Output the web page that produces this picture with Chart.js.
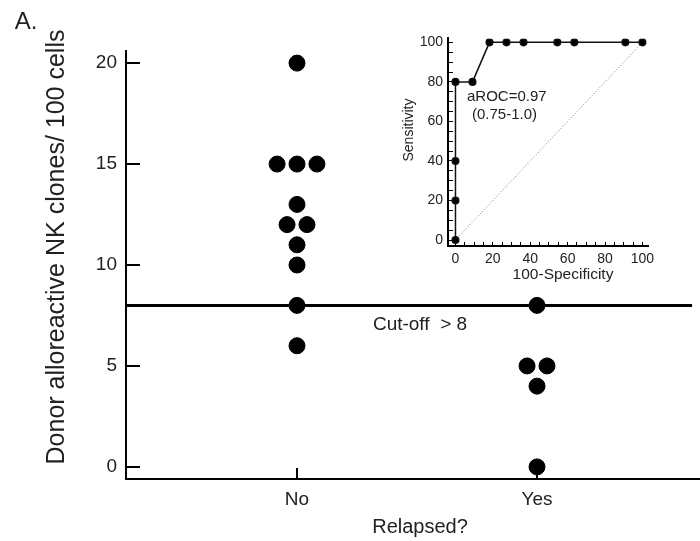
<!DOCTYPE html>
<html>
<head>
<meta charset="utf-8">
<script src="https://cdn.jsdelivr.net/npm/chart.js@4/dist/chart.umd.min.js"></script>
<style>
  html, body { margin: 0; padding: 0; background: #fff; }
  #wrap { position: relative; width: 700px; height: 541px; }
  #main { position: absolute; left: 0; top: 0; }
  #inset { position: absolute; left: 390px; top: 20px; }
</style>
</head>
<body>
<div id="wrap">
  <canvas id="main" width="700" height="541"></canvas>
  <canvas id="inset" width="280" height="270"></canvas>
</div>
<script>
// ---- data ----
const groups = ["No", "Yes"];
const notRelapsed = [20, 15, 15, 15, 13, 12, 12, 11, 10, 8, 6];
const relapsed = [8, 5, 5, 4, 0];
const cutoff = 8;
const yTicks = [0, 5, 10, 15, 20];

// ROC curve (100-specificity, sensitivity)
const rocX = [0, 0, 0, 0, 9.1, 18.2, 27.3, 36.4, 54.5, 63.6, 90.9, 100];
const rocY = [0, 20, 40, 80, 80, 100, 100, 100, 100, 100, 100, 100];
const rocTicks = [0, 20, 40, 60, 80, 100];

const FONT = "Arial, 'Liberation Sans', sans-serif";
const INK = '#222';

// spread identical values sideways so they don't overlap
function dotPlot(values, center, step) {
  const counts = {}, seen = {};
  values.forEach(v => counts[v] = (counts[v] || 0) + 1);
  return values.map(v => {
    const k = seen[v] = (seen[v] === undefined ? 0 : seen[v] + 1);
    return { x: center + (k - (counts[v] - 1) / 2) * step, y: v };
  });
}

const xMin = 0.2875, xMax = 2.679;
const jitter = 0.083;

const textPlugin = {
  id: 'mainText',
  afterDraw(chart) {
    const ctx = chart.ctx;
    ctx.save();
    ctx.fillStyle = INK;
    ctx.textAlign = 'center';
    ctx.textBaseline = 'middle';
    ctx.font = '24px ' + FONT;
    ctx.fillText('A.', 26, 22);
    ctx.font = '20px ' + FONT;
    ctx.fillText('Relapsed?', 420, 527);
    ctx.font = '19px ' + FONT;
    ctx.fillText('Cut-off  > 8', 420, 325);
    ctx.translate(57, 247);
    ctx.rotate(-Math.PI / 2);
    ctx.font = '25px ' + FONT;
    ctx.fillText('Donor alloreactive NK clones/ 100 cells', 0, 0);
    ctx.restore();
  }
};

new Chart(document.getElementById('main'), {
  type: 'scatter',
  data: {
    datasets: [
      {
        type: 'line',
        data: [{ x: xMin, y: cutoff }, { x: 2.646, y: cutoff }],
        borderColor: '#000',
        borderWidth: 3,
        pointRadius: 0,
        order: 2
      },
      {
        data: dotPlot(notRelapsed, 1, jitter),
        backgroundColor: '#000',
        borderColor: '#000',
        pointRadius: 8,
        order: 1
      },
      {
        data: dotPlot(relapsed, 2, jitter),
        backgroundColor: '#000',
        borderColor: '#000',
        pointRadius: 8,
        order: 1
      }
    ]
  },
  options: {
    responsive: false,
    animation: false,
    layout: { autoPadding: false, padding: { top: 51, right: 0, left: 0, bottom: 0 } },
    plugins: { legend: { display: false }, tooltip: { enabled: false } },
    scales: {
      x: {
        type: 'linear',
        min: xMin,
        max: xMax,
        afterBuildTicks: s => { s.ticks = groups.map((g, i) => ({ value: i + 1 })); },
        afterFit: s => { s.height = 62; },
        ticks: {
          callback: v => groups[v - 1],
          color: INK,
          font: { size: 19, family: FONT },
          padding: 20,
          maxRotation: 0
        },
        grid: { drawOnChartArea: false, tickLength: -11, color: '#000', lineWidth: 2 },
        border: { color: '#000', width: 2 }
      },
      y: {
        min: -0.6,
        max: 20.6,
        afterBuildTicks: s => { s.ticks = yTicks.map(v => ({ value: v })); },
        afterFit: s => { s.width = 126; },
        ticks: {
          color: INK,
          font: { size: 19, family: FONT },
          padding: 23
        },
        grid: { drawOnChartArea: false, tickLength: -14, color: '#000', lineWidth: 2 },
        border: { color: '#000', width: 2 }
      }
    }
  },
  plugins: [textPlugin]
});

const insetText = {
  id: 'insetText',
  afterDraw(chart) {
    const ctx = chart.ctx;
    ctx.save();
    ctx.fillStyle = INK;
    ctx.textBaseline = 'middle';
    ctx.font = '15px ' + FONT;
    ctx.textAlign = 'left';
    ctx.fillText('aROC=0.97', 77, 77);
    ctx.fillText('(0.75-1.0)', 82, 95);
    ctx.textAlign = 'center';
    ctx.font = '15.5px ' + FONT;
    ctx.fillText('100-Specificity', 173, 255);
    ctx.translate(19, 110);
    ctx.rotate(-Math.PI / 2);
    ctx.font = '14px ' + FONT;
    ctx.fillText('Sensitivity', 0, 0);
    ctx.restore();
  }
};

const every5 = Array.from({ length: 21 }, (_, i) => ({ value: i * 5 }));

new Chart(document.getElementById('inset'), {
  type: 'scatter',
  data: {
    datasets: [
      {
        data: [{ x: 0, y: 0 }, { x: 100, y: 100 }],
        showLine: true,
        borderColor: '#777',
        borderWidth: 1,
        borderDash: [1, 2],
        pointRadius: 0,
        order: 2
      },
      {
        data: rocX.map((x, i) => ({ x: x, y: rocY[i] })),
        showLine: true,
        borderColor: '#111',
        backgroundColor: '#000',
        borderWidth: 1.5,
        pointRadius: 3.3,
        order: 1
      }
    ]
  },
  options: {
    responsive: false,
    animation: false,
    layout: { autoPadding: false, padding: { top: 16, right: 22, left: 0, bottom: 0 } },
    plugins: { legend: { display: false }, tooltip: { enabled: false } },
    scales: {
      x: {
        min: -4,
        max: 103,
        afterBuildTicks: s => { s.ticks = every5.slice(); },
        afterFit: s => { s.height = 44; },
        ticks: {
          callback: v => rocTicks.includes(v) ? v : '',
          autoSkip: false,
          color: INK,
          font: { size: 14, family: FONT },
          padding: 9,
          maxRotation: 0
        },
        grid: { drawOnChartArea: false, tickLength: -4, color: '#000', lineWidth: 1 },
        border: { color: '#000', width: 2 }
      },
      y: {
        min: -3,
        max: 102,
        afterBuildTicks: s => { s.ticks = every5.slice(); },
        afterFit: s => { s.width = 58; },
        ticks: {
          callback: v => rocTicks.includes(v) ? v : '',
          autoSkip: false,
          color: INK,
          font: { size: 14, family: FONT },
          padding: 10
        },
        grid: { drawOnChartArea: false, tickLength: -5, color: '#000', lineWidth: 1 },
        border: { color: '#000', width: 2 }
      }
    }
  },
  plugins: [insetText]
});
</script>
</body>
</html>
